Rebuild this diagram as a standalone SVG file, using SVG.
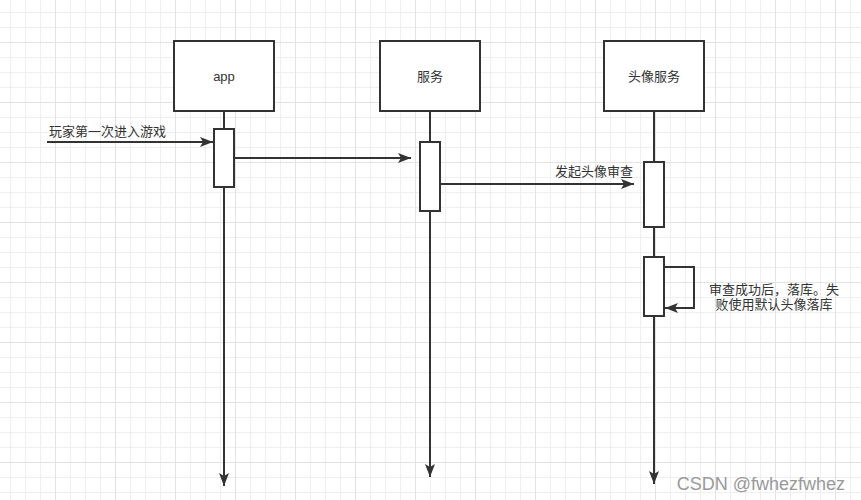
<svg xmlns="http://www.w3.org/2000/svg" width="861" height="500" viewBox="0 0 861 500">
<defs>
<pattern id="grid" patternUnits="userSpaceOnUse" x="55" y="42" width="60" height="60">
<path d="M15.5 0V60M30.5 0V60M45.5 0V60M0 15.5H60M0 30.5H60M0 45.5H60" stroke="#efefef" stroke-width="1" fill="none"/>
<path d="M0.5 0V60M0 0.5H60" stroke="#e3e3e3" stroke-width="1" fill="none"/>
</pattern>
<marker id="arr" markerUnits="userSpaceOnUse" markerWidth="14" markerHeight="12" refX="13" refY="5" orient="auto" viewBox="0 0 14 10">
<path d="M0 0L13 5L0 10L3 5Z" fill="#333"/>
</marker>
<style>
.box{fill:#fff;stroke:#333;stroke-width:2}
.ln{fill:none;stroke:#333;stroke-width:2}
.t{font-family:"Liberation Sans","Noto Sans CJK SC",sans-serif;font-size:13px;fill:#333;dominant-baseline:central}
</style>
</defs>
<rect width="861" height="500" fill="#fff"/>
<rect width="861" height="500" fill="url(#grid)"/>
<g id="connectors">
<line class="ln" x1="224" y1="111" x2="224" y2="486" marker-end="url(#arr)"/>
<line class="ln" x1="430" y1="111" x2="430" y2="477" marker-end="url(#arr)"/>
<line class="ln" x1="654" y1="111" x2="654" y2="484" marker-end="url(#arr)"/>
<line class="ln" x1="47" y1="142" x2="213" y2="142" marker-end="url(#arr)"/>
<line class="ln" x1="234" y1="158" x2="411" y2="158" marker-end="url(#arr)"/>
<line class="ln" x1="440" y1="184" x2="634" y2="184" marker-end="url(#arr)"/>
<polyline class="ln" points="664,267 694,267 694,308 665,308" marker-end="url(#arr)"/>
<text class="t" x="49" y="131">玩家第一次进入游戏</text>
<text class="t" x="633" y="171" text-anchor="end">发起头像审查</text>
<text class="t" x="774" y="289" text-anchor="middle">审查成功后，落库。失</text>
<text class="t" x="774" y="304" text-anchor="middle">败使用默认头像落库</text>
</g>
<g id="app">
<rect class="box" x="174" y="41" width="100" height="70"/>
<text class="t" x="224" y="76" text-anchor="middle">app</text>
</g>
<g id="service">
<rect class="box" x="380" y="41" width="100" height="70"/>
<text class="t" x="430" y="76" text-anchor="middle">服务</text>
</g>
<g id="avatar-service">
<rect class="box" x="604" y="41" width="100" height="70"/>
<text class="t" x="654" y="76" text-anchor="middle">头像服务</text>
</g>
<g id="app-act">
<rect class="box" x="214" y="129" width="20" height="58"/>
</g>
<g id="service-act">
<rect class="box" x="420" y="142" width="20" height="69"/>
</g>
<g id="avatar-act1">
<rect class="box" x="644" y="162" width="20" height="65"/>
</g>
<g id="avatar-act2">
<rect class="box" x="644" y="257" width="20" height="59"/>
</g>
<text x="845" y="490" text-anchor="end" font-family="Liberation Sans, sans-serif" font-size="18" fill="#999">CSDN @fwhezfwhez</text>
</svg>
